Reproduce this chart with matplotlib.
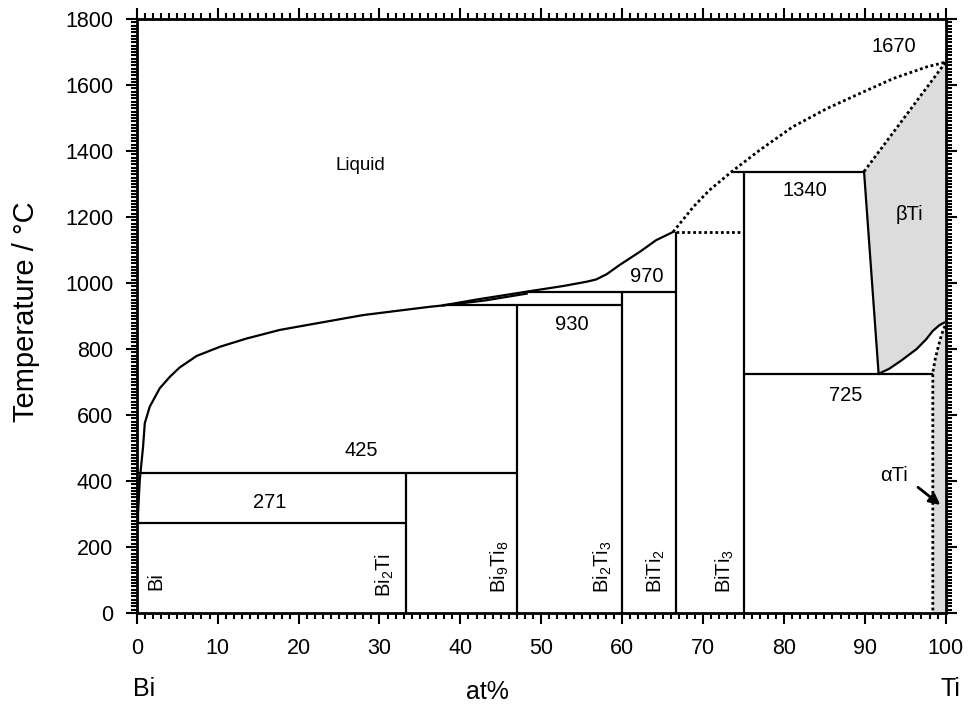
import numpy as np
import matplotlib
matplotlib.use("Agg")
import matplotlib.pyplot as plt
from matplotlib.ticker import MultipleLocator

plt.rcParams['font.family'] = ['Liberation Sans', 'DejaVu Sans']
plt.rcParams['mathtext.fontset'] = 'custom'
plt.rcParams['mathtext.rm'] = 'Liberation Sans'
plt.rcParams['mathtext.it'] = 'Liberation Sans'
plt.rcParams['mathtext.bf'] = 'Liberation Sans:bold'

# liquidus, Bi side up to the BiTi2 peritectic (solid)
liq_x = [0.15, 0.16, 0.37, 0.78, 0.99, 1.6, 2.84, 4.1, 5.3, 7.4, 10.3, 13.6, 17.7, 21.8, 28, 36.2,
         37.8, 42, 48.2, 52.7, 55.6, 56.8, 58.1, 59.7, 62.2, 64.2, 66.3]
liq_t = [271, 302, 403, 504, 575, 625, 681, 716, 744, 779, 807, 832, 858, 876, 903, 928,
         932, 950, 974, 991, 1004, 1011, 1027, 1055, 1095, 1130, 1155]
# second branch of the narrow lens between 930 and 970
lens_x = [37.8, 43, 48.2]
lens_t = [932, 947, 968]
# liquidus above 1160 (dotted)
liq2_x = [66.3, 68.8, 70.8, 73.5, 77, 81.1, 85.3, 89.4, 93.5, 97.6, 100]
liq2_t = [1155, 1231, 1282, 1337, 1403, 1474, 1529, 1575, 1620, 1655, 1670]

# compounds: x, upper temperature
comp_x = [33.3, 47.06, 60.0, 66.7, 75.0]
comp_t = [425, 930, 972, 1155, 1338]
comp_names = ['Bi$_2$Ti', 'Bi$_9$Ti$_8$', 'Bi$_2$Ti$_3$', 'BiTi$_2$', 'BiTi$_3$']

# invariant lines: x start, x end, temperature
inv_x0 = [0, 0, 37.8, 48.2, 73.5, 75]
inv_x1 = [33.3, 47.06, 60.0, 66.7, 89.9, 98.4]
inv_t = [271, 425, 932, 972, 1338, 725]

# beta Ti boundaries
beta_left_x = [89.9, 91.7]
beta_left_t = [1338, 725]
beta_low_x = [91.7, 93, 94.5, 96.4, 97.6, 98.4, 99.2, 99.8]
beta_low_t = [725, 740, 765, 800, 830, 855, 872, 880]
beta_top_x = [89.9, 100]
beta_top_t = [1338, 1670]
# alpha Ti boundary (dotted)
alpha_x = [99.9, 99.5, 99.1, 98.7, 98.4, 98.4]
alpha_t = [870, 845, 810, 770, 729, 0]

fig = plt.figure(figsize=(9.7, 7.11), dpi=100)
ax = fig.add_axes([0.141, 0.138, 0.834, 0.835])

gray = '#dcdcdc'
ax.fill(beta_top_x + [100] + beta_low_x[::-1] + beta_left_x[::-1],
        beta_top_t + [880] + beta_low_t[::-1] + beta_left_t[::-1],
        color=gray, lw=0, zorder=1)
ax.fill(alpha_x[::-1] + [100, 100], alpha_t[::-1] + [880, 0],
        color=gray, lw=0, zorder=1)

lw = 1.6
dot = (0, (1, 1))
ax.plot(liq_x, liq_t, color='k', lw=lw, zorder=3)
ax.plot(lens_x, lens_t, color='k', lw=lw, zorder=3)
ax.plot(liq2_x, liq2_t, color='k', lw=2, ls=dot, zorder=3)
ax.plot([66.7, 75], [1155, 1155], color='k', lw=2, ls=dot, zorder=3)

ax.vlines(comp_x, 0, comp_t, color='k', lw=lw, zorder=3)
ax.hlines(inv_t, inv_x0, inv_x1, color='k', lw=lw, zorder=3)

ax.plot(beta_left_x, beta_left_t, color='k', lw=lw, zorder=3)
ax.plot(beta_low_x, beta_low_t, color='k', lw=lw, zorder=3)
ax.plot(beta_top_x, beta_top_t, color='k', lw=2, ls=dot, zorder=3)
ax.plot(alpha_x, alpha_t, color='k', lw=2, ls=dot, zorder=3)

fs = 14.5
ax.text(27.7, 1357, 'Liquid', fontsize=fs - 1, ha='center', va='center')
ax.text(93.6, 1718, '1670', fontsize=fs, ha='center', va='center')
ax.text(82.6, 1282, '1340', fontsize=fs, ha='center', va='center')
ax.text(95.5, 1209, 'βTi', fontsize=fs, ha='center', va='center')
ax.text(63, 1019, '970', fontsize=fs, ha='center', va='center')
ax.text(53.8, 873, '930', fontsize=fs, ha='center', va='center')
ax.text(27.7, 492, '425', fontsize=fs, ha='center', va='center')
ax.text(16.4, 335, '271', fontsize=fs, ha='center', va='center')
ax.text(87.6, 658, '725', fontsize=fs, ha='center', va='center')
ax.text(93.6, 418, 'αTi', fontsize=fs, ha='center', va='center')
ax.annotate('', xy=(99.6, 322), xytext=(96.3, 386),
            arrowprops=dict(arrowstyle='-|>', color='k', lw=2, mutation_scale=16))

ax.text(2.4, 68, 'Bi', fontsize=fs, rotation=90, ha='center', va='bottom')
name_pos_x = [30.7, 44.9, 57.6, 64.2, 72.7]
name_pos_t = [48, 60, 60, 60, 60]
for nx, nt, nm in zip(name_pos_x, name_pos_t, comp_names):
    ax.text(nx, nt, nm, fontsize=fs, rotation=90, ha='center', va='bottom')

ax.set_xlim(0, 100)
ax.set_ylim(0, 1800)
ax.xaxis.set_major_locator(MultipleLocator(10))
ax.xaxis.set_minor_locator(MultipleLocator(1))
ax.yaxis.set_major_locator(MultipleLocator(200))
ax.yaxis.set_minor_locator(MultipleLocator(10))
ax.tick_params(which='both', direction='out', top=True, right=True,
               labeltop=False, labelright=False, width=1.5, labelsize=15.5)
ax.tick_params(which='major', length=8, pad=9)
ax.tick_params(axis='x', which='major', pad=10)
ax.tick_params(which='minor', length=4)
for s in ax.spines.values():
    s.set_linewidth(2)

ax.set_ylabel('Temperature / °C', fontsize=21)
ax.yaxis.set_label_coords(-0.12, 0.507)
fig.text(0.503, 0.027, 'at%', fontsize=18, ha='center', va='center')
fig.text(0.149, 0.031, 'Bi', fontsize=18, ha='center', va='center')
fig.text(0.980, 0.031, 'Ti', fontsize=18, ha='center', va='center')

fig.savefig('out.png', dpi=100)
